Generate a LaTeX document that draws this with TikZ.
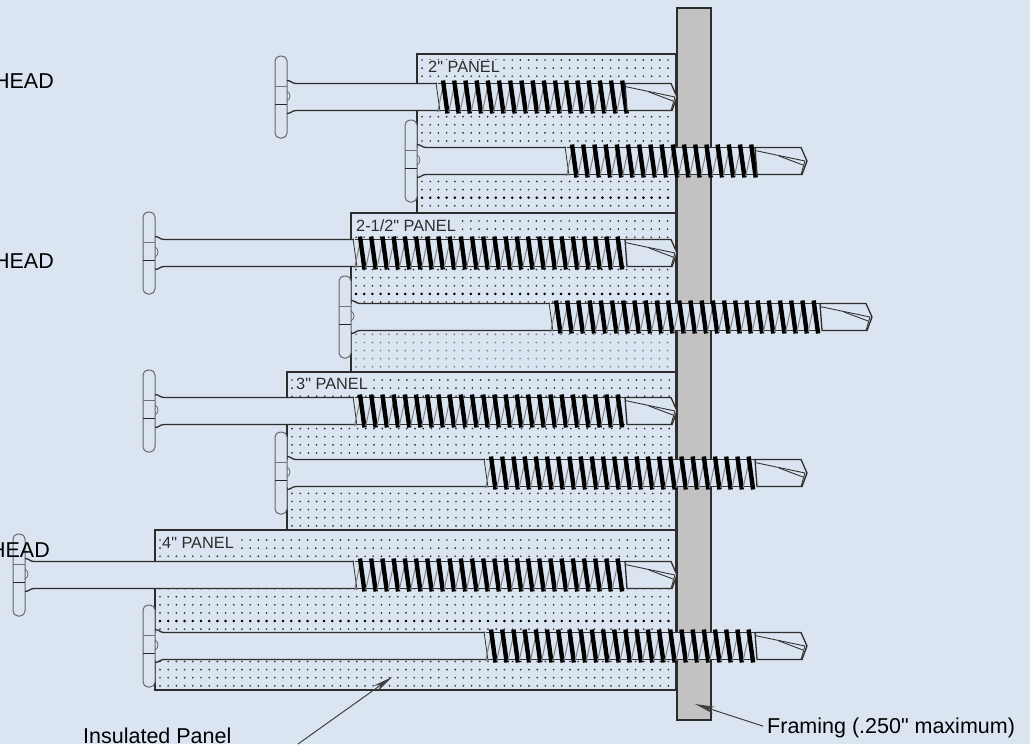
\documentclass[tikz,border=0pt]{standalone}
\usepackage{fontspec}
\newfontfamily\labelfont{Liberation Sans}
\usepackage{xcolor}
\definecolor{pagebg}{RGB}{219,229,241}
\definecolor{steel}{RGB}{194,194,194}
\definecolor{ink}{RGB}{45,45,45}
\usetikzlibrary{arrows.meta,calc}
\tikzstyle{panel} = [
    draw=ink,
    line width=1.2pt,
]
\tikzstyle{panellabel} = [
    anchor=west,
    fill=pagebg,
    inner sep=1pt,
    text=ink,
    font=\labelfont\fontsize{16.3}{17}\selectfont,
]
\tikzstyle{label} = [
    text=black,
    inner sep=0pt,
    font=\labelfont\fontsize{21.5}{23}\selectfont,
]
\tikzstyle{head} = [
    draw=black!60,
    line width=1pt,
    fill=pagebg,
    rounded corners=5pt,
]
\tikzstyle{shank} = [draw=ink, line width=1.3pt]
\tikzstyle{turn} = [draw=black, line width=4.4pt]
\tikzstyle{arrow} = [-{Stealth[length=20pt,width=7pt]},draw=black!75,line width=1pt]

% head left, centre y, thread start, thread end
\newcommand{\screw}[4]{
    \pgfmathsetmacro{\hr}{#1+12}
    \pgfmathsetmacro{\tn}{#3+8}
    \pgfmathsetmacro{\tm}{#3+19.2}
    \pgfmathsetmacro{\hy}{#2-13.5}
    \pgfmathsetmacro{\ly}{#2+13.5}
    \fill [pagebg] (\hr,\hy) rectangle (#4+48,\ly);
    \draw [head] (#1,#2-41) rectangle (\hr,#2+41);
    \draw [draw=black!55, line width=.8pt] (#1,#2-11) -- (\hr,#2-11);
    \draw [draw=black!85, line width=1pt] (#1,#2+7) -- (\hr,#2+7);
    \draw [draw=black!60, line width=.8pt] (\hr,#2-6) .. controls (\hr+4,#2-4) and (\hr+4,#2+2) .. (\hr,#2+4);
    % shank
    \draw [shank] (\hr,\hy-3) .. controls (\hr+4,\hy-3) and (\hr+5,\hy) .. (\hr+9,\hy) -- (#3+1,\hy);
    \draw [shank] (\hr,\ly+3) .. controls (\hr+4,\ly+3) and (\hr+5,\ly) .. (\hr+9,\ly) -- (#3+3,\ly);
    % thread
    \draw [draw=black!80, line width=.8pt] (#3,\hy-1) -- (#3+4,\ly+1);
    \draw [draw=black!80, line width=.8pt] (#3+2,\hy) -- (#4,\hy);
    \draw [draw=black!80, line width=.8pt] (#3+4,\ly) -- (#4,\ly);
    \foreach \t in {\tn,\tm,...,#4} {
        \draw [draw=black!50, line width=1pt] (\t-6.5,\ly+1.5) -- (\t,\hy-1.5);
        \draw [turn] (\t-1,\hy-3) -- (\t+3.5,\ly+3);
    }
    % tip
    \draw [shank, fill=pagebg] (#4,\hy) -- (#4+46,\hy) -- (#4+52,#2) -- (#4+47,\ly) -- (#4+2,\ly) -- cycle;
    \draw [draw=black!80, line width=.9pt] (#4,\hy+3) -- (#4+50,#2);
    \draw [draw=black!80, line width=.9pt] (#4+24,#2-5) -- (#4+48,#2+4);
    \draw [draw=black!80, line width=.9pt] (#4+50,#2) -- (#4+46,\ly);
}

\begin{document}
\begin{tikzpicture}[x=1pt,y=-1pt]
    \useasboundingbox (0,0) rectangle (1030,744);
    \fill [pagebg] (0,0) rectangle (1030,744);

    % dots
    \foreach \px/\py in {422/60, 356/221, 292/380, 160/540} {
        \pgfmathsetmacro{\pn}{\px+8.2}
        \foreach \r in {0,...,18} {
            \foreach \x in {\px,\pn,...,672} {
                \fill [ink] (\x,\py+\r*8.1) circle (.95pt);
            }
        }
    }
    % darker rows
    \foreach \px/\py in {422/197.7, 356/293.9, 160/621} {
        \pgfmathsetmacro{\pn}{\px+8.2}
        \foreach \x in {\px,\pn,...,672} {
            \fill [black] (\x,\py) circle (1.4pt);
        }
    }
    \fill [pagebg, opacity=.45] (352,334) rectangle (676,371);

    % panels
    \draw [panel] (417,54) rectangle (676,213);
    \draw [panel] (351,213) rectangle (676,372);
    \draw [panel] (287,372) rectangle (676,530);
    \draw [panel] (155,530) rectangle (676,690);
    \node (panel2in) at (427,67) [panellabel] {2" PANEL};
    \node (panel212in) at (355,226) [panellabel] {2-1/2" PANEL};
    \node (panel3in) at (295,384) [panellabel] {3" PANEL};
    \node (panel4in) at (161,543) [panellabel] {4" PANEL};

    % framing
    \draw [fill=steel, draw=ink, line width=1.3pt] (677,8) rectangle (711,720);

    % screws
    \screw{275}{97}{436}{625}
    \screw{405}{161}{565}{755}
    \screw{143}{253}{353}{625}
    \screw{339}{317}{549}{820}
    \screw{143}{411}{353}{625}
    \screw{275}{473}{484}{755}
    \screw{13}{575}{353}{625}
    \screw{143}{646}{484}{755}

    % labels
    \node (headA) at (54,88) [label, anchor=base east] {HEAD};
    \node (headB) at (54,268) [label, anchor=base east] {HEAD};
    \node (headC) at (50,557) [label, anchor=base east] {HEAD};
    \node (insulated) at (83,743) [label, anchor=base west] {Insulated Panel};
    \node (framing) at (767,733) [label, anchor=base west] {Framing (.250" maximum)};

    % arrows
    \coordinate (insulatedstart) at (298,744);
    \coordinate (insulatedtip) at (392,677);
    \coordinate (framingtip) at (695,704);
    \draw [arrow] (insulatedstart) to (insulatedtip);
    \draw [arrow, shorten <=4pt] (framing.west) to (framingtip);

\end{tikzpicture}
\end{document}
